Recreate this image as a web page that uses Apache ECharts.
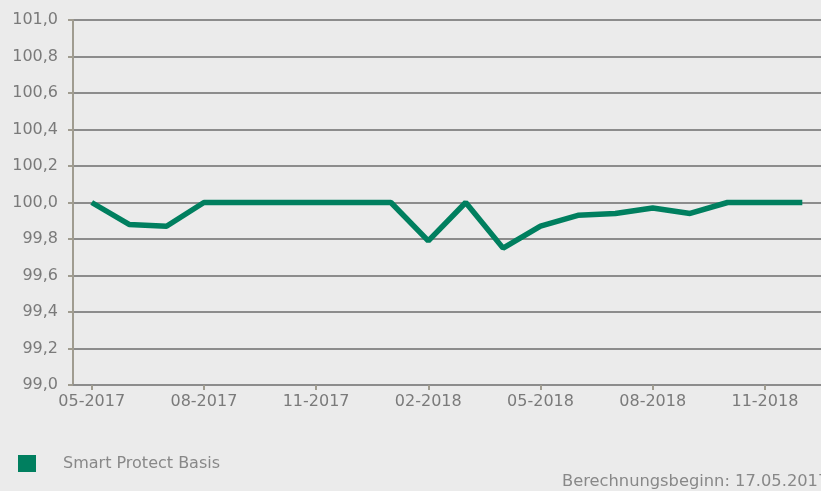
<!DOCTYPE html>
<html>
<head>
<meta charset="utf-8">
<script src="https://cdn.jsdelivr.net/npm/echarts@6/dist/echarts.min.js"></script>
<style>
html,body{margin:0;padding:0;background:#ebebeb;}
#c{width:821px;height:491px;}
</style>
</head>
<body>
<div id="c"></div>
<script>
const categories = ['05-2017','06-2017','07-2017','08-2017','09-2017','10-2017','11-2017','12-2017','01-2018','02-2018','03-2018','04-2018','05-2018','06-2018','07-2018','08-2018','09-2018','10-2018','11-2018','12-2018'];
const seriesName = 'Smart Protect Basis';
const values = [100.00, 99.88, 99.87, 100.00, 100.00, 100.00, 100.00, 100.00, 100.00, 99.79, 100.00, 99.75, 99.87, 99.93, 99.94, 99.97, 99.94, 100.00, 100.00, 100.00];
const footnote = 'Berechnungsbeginn: 17.05.2017';

const chart = echarts.init(document.getElementById('c'), null, {renderer:'canvas'});
const font = '"DejaVu Sans", Verdana, sans-serif';
chart.setOption({
  backgroundColor: '#ebebeb',
  animation: false,
  grid: {left: 73, top: 20, width: 750, height: 365, containLabel: false},
  xAxis: {
    type: 'category',
    data: categories,
    boundaryGap: true,
    axisLine: {show: true, lineStyle: {color: '#8c8c8c', width: 2}},
    axisTick: {show: true, alignWithLabel: true, interval: 2, length: 5, lineStyle: {color: '#a09c90', width: 2}},
    axisLabel: {interval: 2, color: '#7a7a7a', fontFamily: font, fontSize: 16, margin: 9},
    splitLine: {show: false}
  },
  yAxis: {
    type: 'value',
    min: 99.0, max: 101.0, interval: 0.2,
    axisLine: {show: true, lineStyle: {color: '#a09c90', width: 2}},
    axisTick: {show: true, length: 5, lineStyle: {color: '#a09c90', width: 2}},
    axisLabel: {color: '#7a7a7a', fontFamily: font, fontSize: 16, margin: 15,
      formatter: v => v.toFixed(1).replace('.', ',')},
    splitLine: {show: true, lineStyle: {color: '#8c8c8c', width: 2}}
  },
  legend: {
    left: 13, top: 450,
    itemWidth: 18, itemHeight: 17,
    icon: 'rect',
    textStyle: {color: '#888888', fontFamily: font, fontSize: 16, padding: [0,0,0,22]},
    data: [seriesName]
  },
  graphic: [{
    type: 'text', left: 562, top: 474,
    style: {text: footnote, fill: '#888888', font: '16.3px "DejaVu Sans", Verdana, sans-serif'}
  }],
  series: [{
    name: seriesName,
    type: 'line',
    data: values,
    symbol: 'none',
    color: '#007f5f',
    lineStyle: {color: '#007f5f', width: 5.5},
    itemStyle: {color: '#007f5f'}
  }]
});
</script>
</body>
</html>
